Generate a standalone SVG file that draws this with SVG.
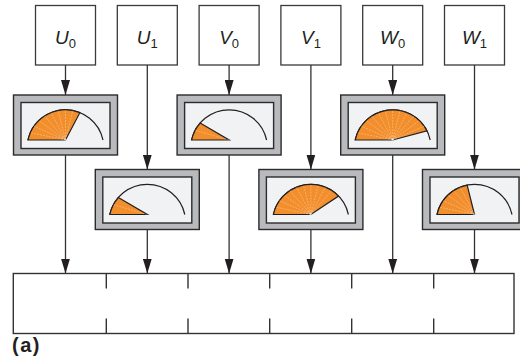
<svg xmlns="http://www.w3.org/2000/svg" xmlns:xlink="http://www.w3.org/1999/xlink" width="520" height="360" viewBox="0 0 520 360">
<style>
.box{fill:#fff;stroke:#3a3a3a;stroke-width:1.3}
.lbl{font-family:"Liberation Sans",Arial,sans-serif;font-size:19px;fill:#231f20;font-style:italic}
.sub{font-style:normal;font-size:13px}
.outer{fill:#b9babd;stroke:#2b2b2b;stroke-width:1.4}
.inner{fill:#f1f2f4;stroke:#2b2b2b;stroke-width:1.4}
.arc{fill:none;stroke:#231f20;stroke-width:1.2}
.sec{fill:#f28e2b;stroke:#231f20;stroke-width:1.2;stroke-linejoin:miter}
.ray{stroke:#fff;stroke-opacity:0.5;stroke-width:0.6;stroke-dasharray:2 1}
.con{stroke:#333;stroke-width:1.3;fill:none;marker-end:url(#ah)}
.bin{fill:#fff;stroke:#333;stroke-width:1.4}
.tick{stroke:#333;stroke-width:1.4}
</style>
<defs>
<marker id="ah" markerUnits="userSpaceOnUse" markerWidth="15" markerHeight="9" refX="15" refY="4.5" orient="auto">
<path d="M0,0 L15,4.5 L0,9 Z" fill="#231f20"/>
</marker>
<g id="frame">
<rect class="outer" x="-52" y="-45" width="104" height="60"/>
<rect class="inner" x="-44.5" y="-37.5" width="89" height="46"/>
<path class="arc" d="M-37.5,0 A38.4,38.4 0 0 1 37.5,0"/>
</g>
</defs>

<g id="inputs">
<g id="U0"><rect class="box" x="35.5" y="5.5" width="60" height="59.5"/><text class="lbl" x="65.5" y="44" text-anchor="middle">U<tspan class="sub" dy="4">0</tspan></text></g>
<g id="U1"><rect class="box" x="117.3" y="5.5" width="60" height="59.5"/><text class="lbl" x="147.3" y="44" text-anchor="middle">U<tspan class="sub" dy="4">1</tspan></text></g>
<g id="V0"><rect class="box" x="199.1" y="5.5" width="60" height="59.5"/><text class="lbl" x="229.1" y="44" text-anchor="middle">V<tspan class="sub" dy="4">0</tspan></text></g>
<g id="V1"><rect class="box" x="280.9" y="5.5" width="60" height="59.5"/><text class="lbl" x="310.9" y="44" text-anchor="middle">V<tspan class="sub" dy="4">1</tspan></text></g>
<g id="W0"><rect class="box" x="362.7" y="5.5" width="60" height="59.5"/><text class="lbl" x="392.7" y="44" text-anchor="middle">W<tspan class="sub" dy="4">0</tspan></text></g>
<g id="W1"><rect class="box" x="444.5" y="5.5" width="60" height="59.5"/><text class="lbl" x="474.5" y="44" text-anchor="middle">W<tspan class="sub" dy="4">1</tspan></text></g>
</g>

<g id="meterU0" transform="translate(65.5,140)">
<use xlink:href="#frame" href="#frame"/>
<path class="sec" d="M0,0 L-37.5,0 A38.4,38.4 0 0 1 14.38,-27.33 Z"/>
<path class="ray" d="M0,0 L-35.08,-7.35 M0,0 L-31.46,-13.76 M0,0 L-26.67,-19.35 M0,0 L-20.91,-23.93 M0,0 L-14.38,-27.33 M0,0 L-7.33,-29.42 M0,0 L0,-30.13 M0,0 L7.33,-29.42"/>
</g>
<g id="meterV0" transform="translate(229.1,140)">
<use xlink:href="#frame" href="#frame"/>
<path class="sec" d="M0,0 L-37.5,0 A38.4,38.4 0 0 1 -28.98,-16.92 Z"/>
<path class="ray" d="M0,0 L-33.9,-9.8"/>
</g>
<g id="meterW0" transform="translate(392.7,140)">
<use xlink:href="#frame" href="#frame"/>
<path class="sec" d="M0,0 L-37.5,0 A38.4,38.4 0 0 1 34.21,-9.16 Z"/>
<path class="ray" d="M0,0 L-35.08,-7.35 M0,0 L-31.46,-13.76 M0,0 L-26.67,-19.35 M0,0 L-20.91,-23.93 M0,0 L-14.38,-27.33 M0,0 L-7.33,-29.42 M0,0 L0,-30.13 M0,0 L7.33,-29.42 M0,0 L14.38,-27.33 M0,0 L20.91,-23.93 M0,0 L26.67,-19.35 M0,0 L31.46,-13.76"/>
</g>
<g id="meterU1" transform="translate(147.3,214.5)">
<use xlink:href="#frame" href="#frame"/>
<path class="sec" d="M0,0 L-37.5,0 A38.4,38.4 0 0 1 -28.98,-16.92 Z"/>
<path class="ray" d="M0,0 L-33.9,-9.8"/>
</g>
<g id="meterV1" transform="translate(310.9,214.5)">
<use xlink:href="#frame" href="#frame"/>
<path class="sec" d="M0,0 L-37.5,0 A38.4,38.4 0 0 1 27.62,-18.41 Z"/>
<path class="ray" d="M0,0 L-35.08,-7.35 M0,0 L-31.46,-13.76 M0,0 L-26.67,-19.35 M0,0 L-20.91,-23.93 M0,0 L-14.38,-27.33 M0,0 L-7.33,-29.42 M0,0 L0,-30.13 M0,0 L7.33,-29.42 M0,0 L14.38,-27.33 M0,0 L20.91,-23.93"/>
</g>
<g id="meterW1" transform="translate(474.5,214.5)">
<use xlink:href="#frame" href="#frame"/>
<path class="sec" d="M0,0 L-37.5,0 A38.4,38.4 0 0 1 -7.33,-29.42 Z"/>
<path class="ray" d="M0,0 L-35.08,-7.35 M0,0 L-31.46,-13.76 M0,0 L-26.67,-19.35 M0,0 L-20.91,-23.93 M0,0 L-14.38,-27.33"/>
</g>

<g id="output">
<rect class="bin" x="13.3" y="273.5" width="500.7" height="60"/>
<path class="tick" d="M106.3,273.5 V288.5 M106.3,318.5 V333.5 M188,273.5 V288.5 M188,318.5 V333.5 M269.7,273.5 V288.5 M269.7,318.5 V333.5 M351.7,273.5 V288.5 M351.7,318.5 V333.5 M433.7,273.5 V288.5 M433.7,318.5 V333.5"/>
</g>

<g id="connectors">
<line class="con" x1="65.5" y1="65" x2="65.5" y2="95"/>
<line class="con" x1="65.5" y1="155" x2="65.5" y2="273.5"/>
<line class="con" x1="147.3" y1="65" x2="147.3" y2="169.5"/>
<line class="con" x1="147.3" y1="229.5" x2="147.3" y2="273.5"/>
<line class="con" x1="229.1" y1="65" x2="229.1" y2="95"/>
<line class="con" x1="229.1" y1="155" x2="229.1" y2="273.5"/>
<line class="con" x1="310.9" y1="65" x2="310.9" y2="169.5"/>
<line class="con" x1="310.9" y1="229.5" x2="310.9" y2="273.5"/>
<line class="con" x1="392.7" y1="65" x2="392.7" y2="95"/>
<line class="con" x1="392.7" y1="155" x2="392.7" y2="273.5"/>
<line class="con" x1="474.5" y1="65" x2="474.5" y2="169.5"/>
<line class="con" x1="474.5" y1="229.5" x2="474.5" y2="273.5"/>
</g>

<text x="12" y="351.5" font-family="'Liberation Sans',Arial,sans-serif" font-weight="bold" font-size="20" letter-spacing="1.5" fill="#231f20">(a)</text>
</svg>
